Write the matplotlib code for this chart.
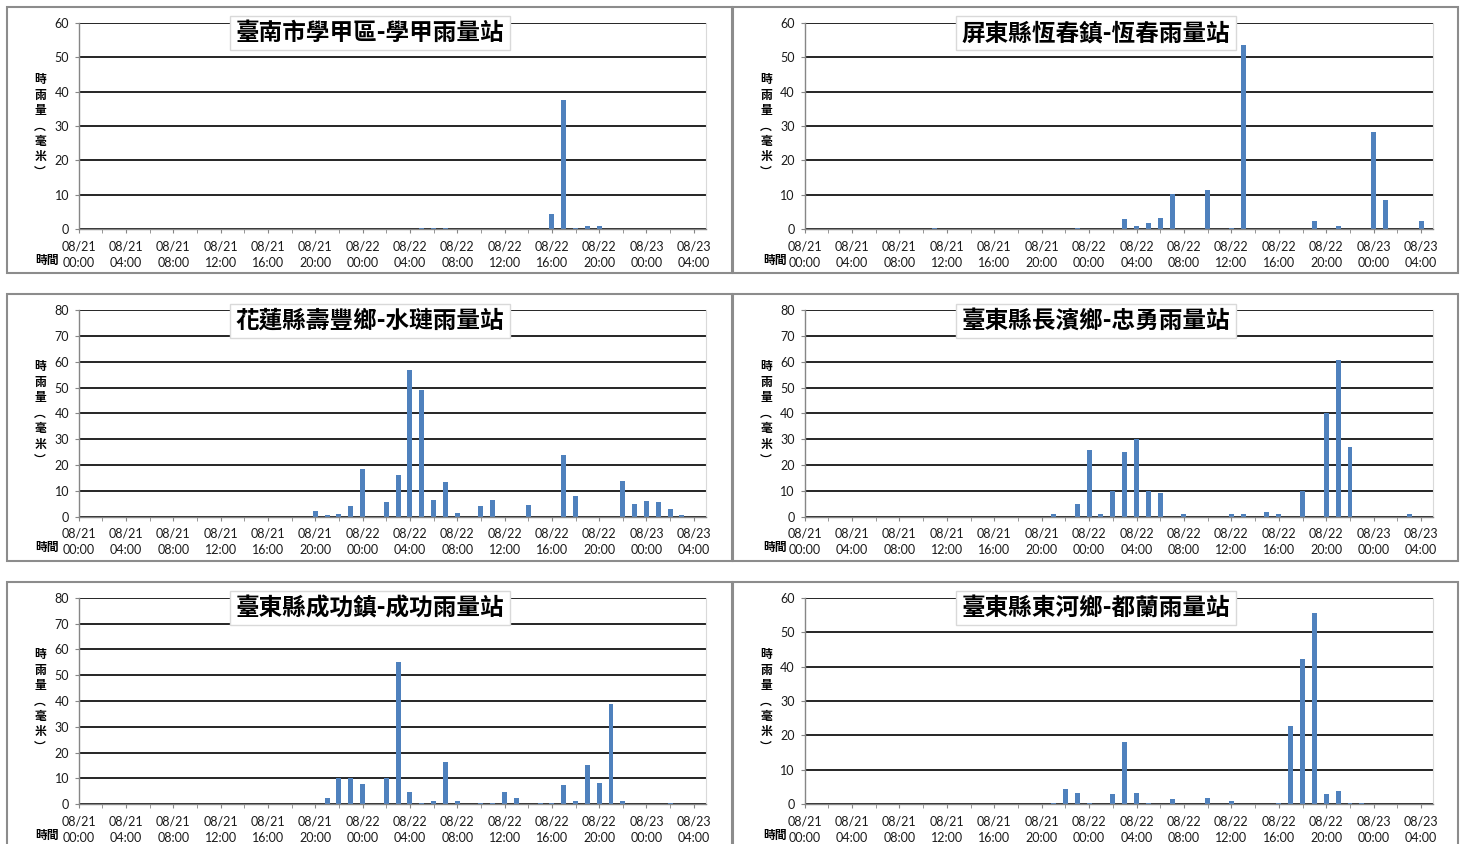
import matplotlib
matplotlib.use('Agg')
import matplotlib.pyplot as plt
from matplotlib.patches import Rectangle

plt.rcParams['font.family'] = ['Lato', 'Noto Sans CJK TC', 'DejaVu Sans']

# hourly rainfall (mm), hour 0 = 08/21 00:00 ... hour 53 = 08/23 05:00
stations = ['臺南市學甲區-學甲雨量站', '屏東縣恆春鎮-恆春雨量站',
            '花蓮縣壽豐鄉-水璉雨量站', '臺東縣長濱鄉-忠勇雨量站',
            '臺東縣成功鎮-成功雨量站', '臺東縣東河鄉-都蘭雨量站']

xuejia = [0, 0, 0, 0, 0, 0, 0, 0, 0, 0, 0, 0,
          0, 0, 0, 0, 0, 0, 0, 0, 0, 0, 0, 0,
          0, 0, 0, 0, 0, 0.5, 0.5, 0.5, 0, 0, 0, 0,
          0, 0, 0, 0, 4.5, 37.5, 0.5, 1.0, 1.0, 0, 0, 0,
          0, 0, 0, 0, 0, 0]
hengchun = [0, 0, 0, 0, 0, 0, 0, 0, 0, 0, 0, 0.5,
            0, 0, 0, 0, 0, 0, 0, 0, 0, 0, 0, 0.5,
            0, 0, 0, 3.1, 1.0, 1.8, 3.3, 10.2, 0, 0, 11.5, 0,
            0.5, 53.5, 0, 0, 0, 0, 0, 2.5, 0, 1.0, 0, 0,
            28.2, 8.6, 0, 0, 2.5, 0]
shuilian = [0, 0, 0, 0, 0, 0, 0, 0, 0, 0, 0, 0,
            0, 0, 0, 0, 0, 0, 0, 0, 2.1, 0.6, 1.0, 4.1,
            18.6, 0, 5.7, 16.1, 56.9, 49.2, 6.3, 13.4, 1.4, 0, 4.1, 6.3,
            0, 0, 4.5, 0, 0, 23.9, 8.0, 0, 0, 0, 13.7, 4.8,
            5.9, 5.5, 2.8, 0.6, 0, 0]
zhongyong = [0, 0, 0, 0, 0, 0, 0, 0, 0, 0, 0, 0,
             0, 0, 0, 0, 0, 0, 0, 0, 0, 1.0, 0, 4.8,
             25.8, 1.0, 10.0, 25.0, 30.0, 10.0, 9.0, 0, 1.0, 0, 0, 0,
             1.0, 1.0, 0, 2.0, 1.0, 0, 10.0, 0, 40.0, 60.6, 26.8, 0,
             0, 0, 0, 1.0, 0, 0]
chenggong = [0, 0, 0, 0, 0, 0, 0, 0, 0, 0, 0, 0,
             0, 0, 0, 0, 0, 0, 0, 0, 0, 2.5, 10.3, 10.3,
             8.0, 0, 10.3, 55.0, 4.8, 0.5, 1.3, 16.5, 1.3, 0, 0.5, 0.5,
             4.8, 2.5, 0, 0.5, 0.5, 7.6, 1.3, 15.4, 8.4, 38.7, 1.3, 0,
             0, 0, 0.5, 0, 0, 0]
dulan = [0, 0, 0, 0, 0, 0, 0, 0, 0, 0, 0, 0,
         0, 0, 0, 0, 0, 0, 0, 0, 0, 0.4, 4.5, 3.4,
         0.4, 0, 3.1, 18.0, 3.4, 0.4, 0, 1.6, 0, 0, 1.9, 0,
         1.0, 0, 0, 0, 0.4, 22.6, 42.2, 55.5, 3.0, 4.0, 0.4, 0.4,
         0, 0, 0, 0, 0, 0]
series = [xuejia, hengchun, shuilian, zhongyong, chenggong, dulan]
ymaxes = [60, 60, 80, 80, 80, 60]

tick_dates = ['08/21'] * 6 + ['08/22'] * 6 + ['08/23'] * 2
tick_times = ['00:00', '04:00', '08:00', '12:00', '16:00', '20:00'] * 2 + ['00:00', '04:00']

W, H = 1464, 844
fig = plt.figure(figsize=(W / 100, H / 100), dpi=100)

col_l = [78.8, 804.5]
col_r = [705.6, 1433.0]
row_t = [22.7, 310.0, 597.7]
row_b = [229.3, 516.7, 804.3]
box_x = [(7, 732), (733, 1458)]
box_y = [(7, 273), (294, 561), (582, 860)]
title_cx = [370, 1096]
title_cy = [33, 321, 608]

for i, (name, vals, ymax) in enumerate(zip(stations, series, ymaxes)):
    r, c = i // 2, i % 2
    l, rr, t, b = col_l[c], col_r[c], row_t[r], row_b[r]
    ax = fig.add_axes([l / W, 1 - b / H, (rr - l) / W, (b - t) / H])
    hours = list(range(len(vals)))
    ax.bar(hours, vals, width=0.42, color='#4F81BD', zorder=3)
    ax.set_xlim(0, 53)
    ax.set_ylim(0, ymax)
    ax.set_yticks(range(0, ymax + 1, 10))
    ax.set_xticks(range(0, 53, 4))
    ax.set_xticklabels([f'{d}\n{tm}' for d, tm in zip(tick_dates, tick_times)],
                       linespacing=1.45)
    ax.set_xticks(range(2, 53, 4), minor=True)
    ax.yaxis.grid(True, color='black', lw=1.2)
    ax.set_axisbelow(True)
    for s in ['left', 'bottom']:
        ax.spines[s].set_color('#868686')
        ax.spines[s].set_linewidth(1.0)
        ax.spines[s].set_zorder(4)
    ax.spines['top'].set_visible(False)
    ax.spines['right'].set_color('#D9D9D9')
    ax.tick_params(axis='x', which='both', direction='out', length=3,
                   color='#868686', labelsize=9, pad=5, labelcolor='#1a1a1a')
    ax.tick_params(axis='y', direction='out', length=3, color='#868686',
                   labelsize=9, pad=4, labelcolor='#1a1a1a')

    # panel border
    x0, x1 = box_x[c]
    y0, y1 = box_y[r]
    fig.patches.append(Rectangle((x0 / W, 1 - y1 / H), (x1 - x0) / W, (y1 - y0) / H,
                                 transform=fig.transFigure, fill=False,
                                 edgecolor='#8C8C8C', lw=1.5))

    fig.text(title_cx[c] / W, 1 - title_cy[r] / H, name, ha='center', va='center',
             fontsize=17, fontweight='bold', family=['Noto Sans CJK TC'],
             bbox=dict(facecolor='white', edgecolor='#D9D9D9',
                       boxstyle='square,pad=0.22'), zorder=5)

    ylab_x = 40 if c == 0 else 766
    fig.text(ylab_x / W, 1 - (t + b) / 2 / H, '時\n雨\n量\n︵\n毫\n米\n︶',
             ha='center', va='center', fontsize=8.5, fontweight='bold',
             linespacing=1.25, family=['Noto Sans CJK TC'])
    xlab_x = 47 if c == 0 else 775
    fig.text(xlab_x / W, 1 - (b + 31) / H, '時間', ha='center', va='center',
             fontsize=8.5, fontweight='bold', family=['Noto Sans CJK TC'])

fig.savefig('out.png', dpi=100)
